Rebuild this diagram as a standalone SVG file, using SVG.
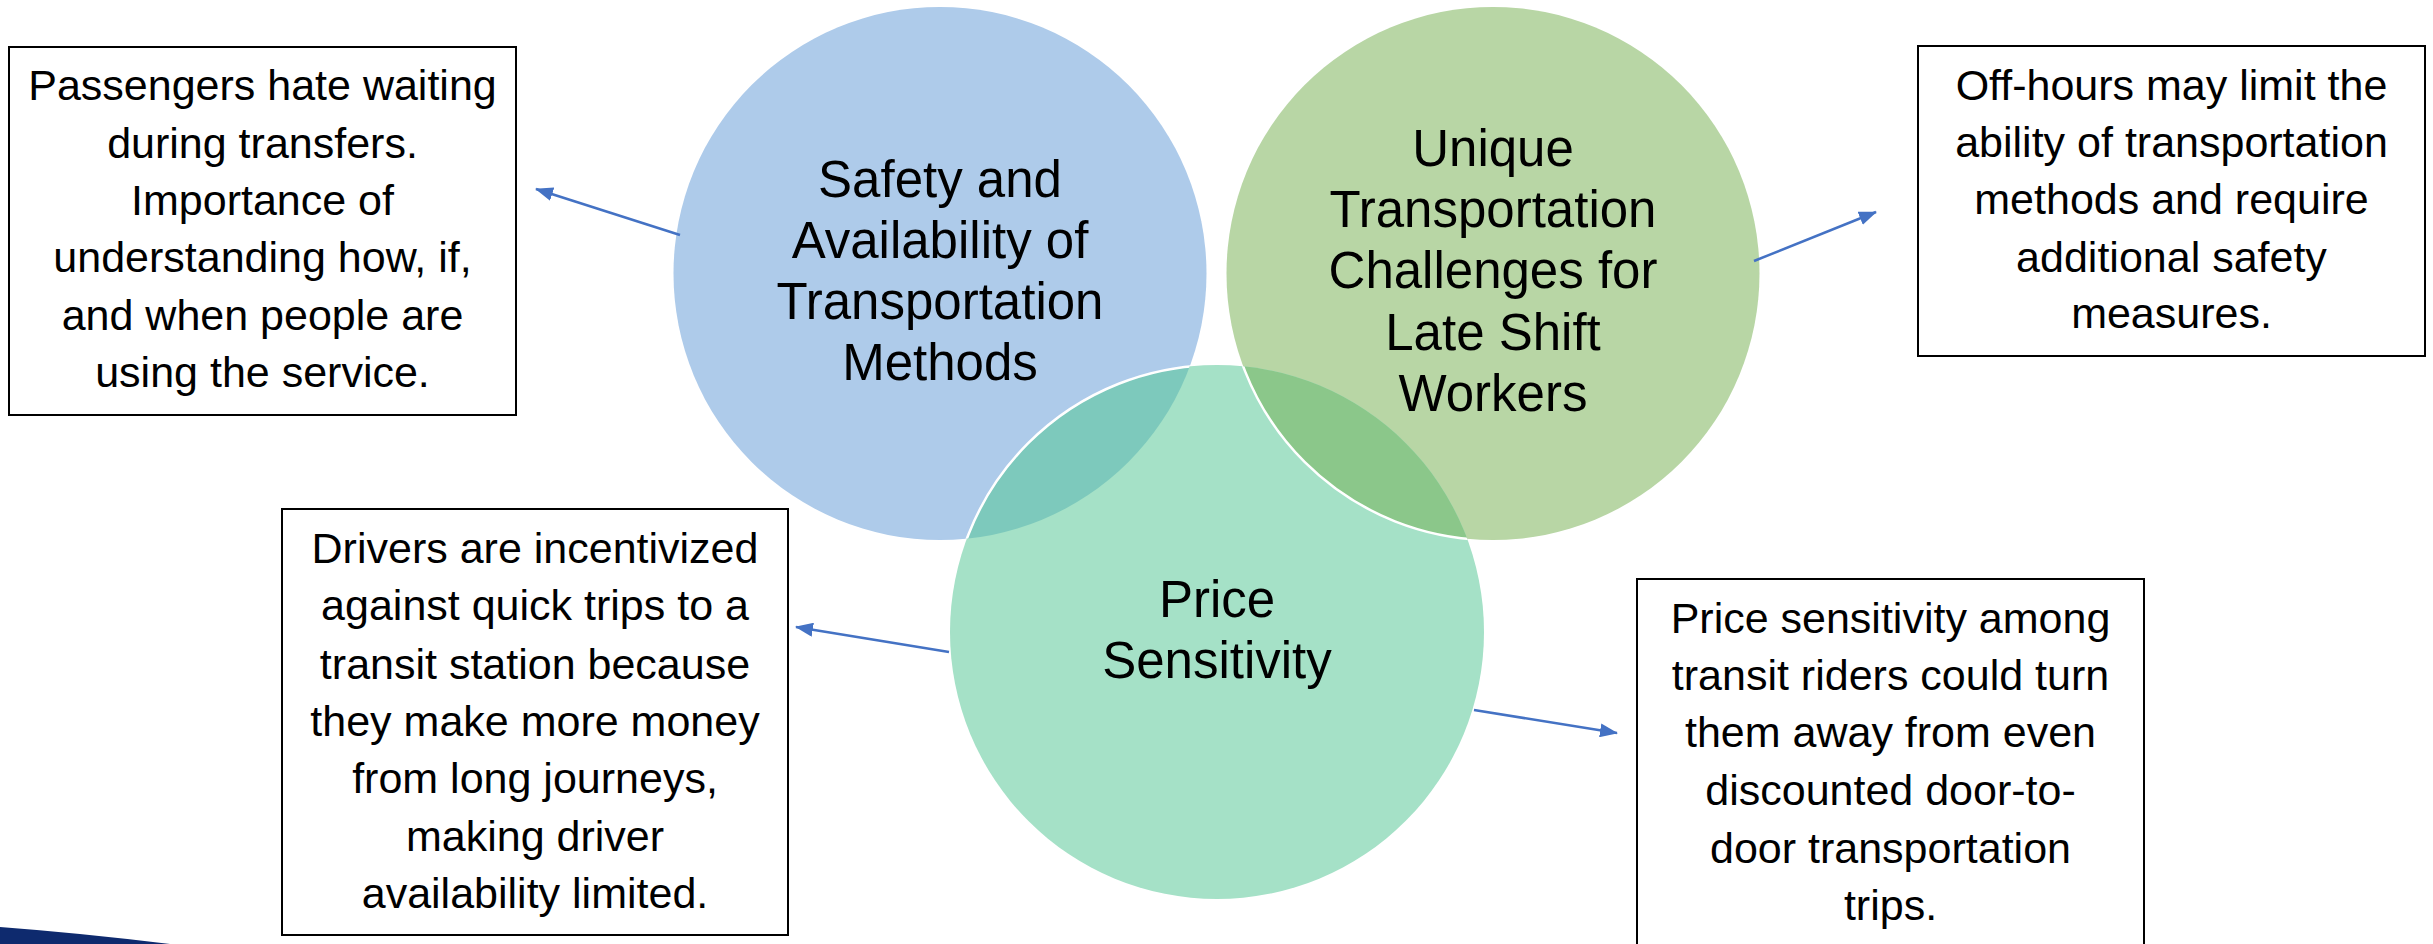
<svg xmlns="http://www.w3.org/2000/svg" width="2433" height="944" viewBox="0 0 2433 944">
<style>
.box{fill:#fff;stroke:#000;stroke-width:2}
.bt{font-family:"Liberation Sans",Arial,sans-serif;font-size:43px;fill:#000;text-anchor:middle}
.ct{font-family:"Liberation Sans",Arial,sans-serif;font-size:51px;fill:#000;text-anchor:middle}
.arr{stroke:#4472C4;stroke-width:2.5;fill:none;marker-end:url(#ah)}
</style>
<defs>
<marker id="ah" markerUnits="userSpaceOnUse" markerWidth="18" markerHeight="14" refX="17" refY="7" orient="auto">
<path d="M0,0 L18,7 L0,14 Z" fill="#4472C4"/>
</marker>
<clipPath id="clip-blue"><circle cx="940" cy="273.5" r="266.5"/></clipPath>
<clipPath id="clip-green"><circle cx="1493" cy="273.5" r="266.5"/></clipPath>
<clipPath id="clip-teal"><circle cx="1217" cy="632" r="267"/></clipPath>
</defs>
<rect width="2433" height="944" fill="#fff"/>
<path d="M0,927 Q80,933 170,944 L0,944 Z" fill="#0E2A6E"/>

<g id="venn-safety">
<circle cx="940" cy="273.5" r="266.5" fill="#AECBEA"/>
</g>
<g id="venn-late-shift">
<circle cx="1493" cy="273.5" r="266.5" fill="#B8D6A5"/>
</g>
<g id="venn-price">
<circle cx="1217" cy="632" r="267" fill="#A5E1C7"/>
</g>
<g id="venn-overlaps">
<circle cx="1217" cy="632" r="267" fill="#7DC9BC" clip-path="url(#clip-blue)"/>
<circle cx="1217" cy="632" r="267" fill="#8BC78A" clip-path="url(#clip-green)"/>
<circle cx="1217" cy="632" r="267" fill="none" stroke="#fff" stroke-width="2.5" clip-path="url(#clip-blue)"/>
<circle cx="1493" cy="273.5" r="266.5" fill="none" stroke="#fff" stroke-width="2.5" clip-path="url(#clip-teal)"/>
</g>
<g id="venn-labels">
<text class="ct"><tspan x="940" y="197">Safety and</tspan><tspan x="940" y="258">Availability of</tspan><tspan x="940" y="319">Transportation</tspan><tspan x="940" y="380">Methods</tspan></text>
<text class="ct"><tspan x="1493" y="166">Unique</tspan><tspan x="1493" y="227">Transportation</tspan><tspan x="1493" y="288">Challenges for</tspan><tspan x="1493" y="350">Late Shift</tspan><tspan x="1493" y="411">Workers</tspan></text>
<text class="ct"><tspan x="1217" y="617">Price</tspan><tspan x="1217" y="678">Sensitivity</tspan></text>
</g>

<g id="box-transfers">
<rect class="box" x="9" y="47" width="507" height="368"/>
<text class="bt"><tspan x="262.5" y="100">Passengers hate waiting</tspan><tspan x="262.5" y="158">during transfers.</tspan><tspan x="262.5" y="215">Importance of</tspan><tspan x="262.5" y="272">understanding how, if,</tspan><tspan x="262.5" y="330">and when people are</tspan><tspan x="262.5" y="387">using the service.</tspan></text>
</g>
<g id="box-offhours">
<rect class="box" x="1918" y="46" width="507" height="310"/>
<text class="bt"><tspan x="2171.5" y="100">Off-hours may limit the</tspan><tspan x="2171.5" y="157">ability of transportation</tspan><tspan x="2171.5" y="214">methods and require</tspan><tspan x="2171.5" y="272">additional safety</tspan><tspan x="2171.5" y="328">measures.</tspan></text>
</g>
<g id="box-drivers">
<rect class="box" x="282" y="509" width="506" height="426"/>
<text class="bt"><tspan x="535" y="563">Drivers are incentivized</tspan><tspan x="535" y="620">against quick trips to a</tspan><tspan x="535" y="679">transit station because</tspan><tspan x="535" y="736">they make more money</tspan><tspan x="535" y="793">from long journeys,</tspan><tspan x="535" y="851">making driver</tspan><tspan x="535" y="908">availability limited.</tspan></text>
</g>
<g id="box-price">
<rect class="box" x="1637" y="579" width="507" height="400"/>
<text class="bt"><tspan x="1890.5" y="633">Price sensitivity among</tspan><tspan x="1890.5" y="690">transit riders could turn</tspan><tspan x="1890.5" y="747">them away from even</tspan><tspan x="1890.5" y="805">discounted door-to-</tspan><tspan x="1890.5" y="863">door transportation</tspan><tspan x="1890.5" y="920">trips.</tspan></text>
</g>

<g id="connectors">
<line class="arr" x1="680" y1="235" x2="536" y2="189"/>
<line class="arr" x1="1754" y1="261" x2="1876" y2="212"/>
<line class="arr" x1="949" y1="652" x2="796" y2="627"/>
<line class="arr" x1="1474" y1="710" x2="1617" y2="733"/>
</g>
</svg>
